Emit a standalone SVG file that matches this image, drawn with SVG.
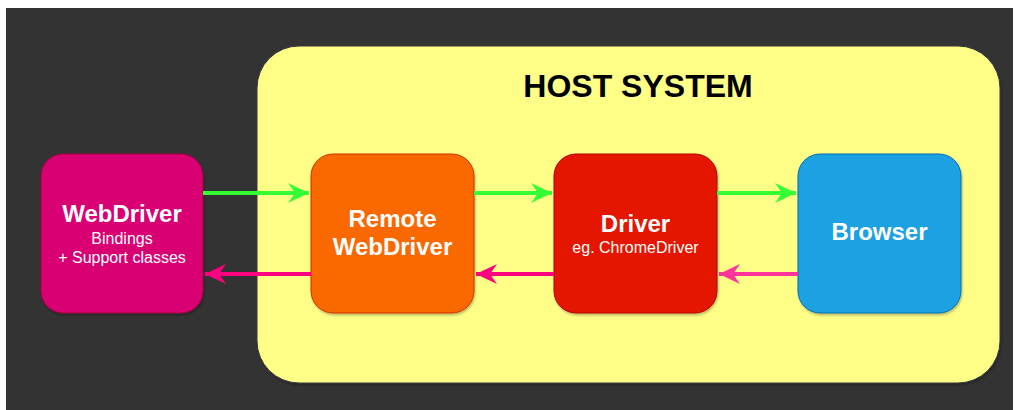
<svg xmlns="http://www.w3.org/2000/svg" width="1015" height="410" viewBox="0 0 1015 410">
  <style>
    .node { stroke-width: 1; }
    .title { font-family: "Liberation Sans", Arial, sans-serif; font-weight: bold; fill: #ffffff; font-size: 24px; text-anchor: middle; }
    .sub { font-family: "Liberation Sans", Arial, sans-serif; fill: #ffffff; font-size: 16px; text-anchor: middle; }
    .host { font-family: "Liberation Sans", Arial, sans-serif; font-weight: bold; fill: #000000; font-size: 32px; text-anchor: middle; }
    .fwd { stroke: #33ff33; stroke-width: 4; fill: none; }
    .back { stroke: #ff0080; stroke-width: 4; fill: none; }
    .back2 { stroke: #ff3399; stroke-width: 4; fill: none; }
  </style>
  <defs>
    <filter id="sh" x="-10%" y="-10%" width="130%" height="130%">
      <feDropShadow dx="1" dy="2" stdDeviation="1" flood-color="#000000" flood-opacity="0.25"/>
    </filter>
    <marker id="hg" viewBox="0 0 22 20" refX="21" refY="10" markerWidth="22" markerHeight="20" markerUnits="userSpaceOnUse" orient="auto">
      <path d="M21,10 L0,0 L7,10 L0,20 Z" fill="#33ff33"/>
    </marker>
    <marker id="hp" viewBox="0 0 22 20" refX="21" refY="10" markerWidth="22" markerHeight="20" markerUnits="userSpaceOnUse" orient="auto">
      <path d="M21,10 L0,0 L7,10 L0,20 Z" fill="#ff0080"/>
    </marker>
    <marker id="hp2" viewBox="0 0 22 20" refX="21" refY="10" markerWidth="22" markerHeight="20" markerUnits="userSpaceOnUse" orient="auto">
      <path d="M21,10 L0,0 L7,10 L0,20 Z" fill="#ff3399"/>
    </marker>
  </defs>

  <rect x="0" y="0" width="1015" height="410" fill="#ffffff"/>
  <rect x="6" y="8" width="1007" height="402" fill="#333333"/>

  <g id="host-system">
    <rect x="257" y="46" width="743" height="337" rx="42" ry="42" fill="#ffff88" stroke="#36393d" stroke-width="1" filter="url(#sh)"/>
    <text class="host" x="638" y="97">HOST SYSTEM</text>
  </g>

  <g id="webdriver">
    <rect class="node" x="41" y="154" width="162" height="159" rx="22" ry="22" fill="#d80073" stroke="#a50040" filter="url(#sh)"/>
    <text class="title" x="122" y="222">WebDriver</text>
    <text class="sub" x="122" y="244">Bindings</text>
    <text class="sub" x="122" y="263">+ Support classes</text>
  </g>

  <g id="remote-webdriver">
    <rect class="node" x="311" y="154" width="163" height="159" rx="22" ry="22" fill="#fa6800" stroke="#c73500" filter="url(#sh)"/>
    <text class="title" x="392.5" y="227">Remote</text>
    <text class="title" x="392.5" y="255">WebDriver</text>
  </g>

  <g id="driver">
    <rect class="node" x="554" y="154" width="163" height="159" rx="22" ry="22" fill="#e51400" stroke="#b20000" filter="url(#sh)"/>
    <text class="title" x="635.5" y="232">Driver</text>
    <text class="sub" x="635.5" y="253">eg. ChromeDriver</text>
  </g>

  <g id="browser">
    <rect class="node" x="798" y="154" width="163" height="159" rx="22" ry="22" fill="#1ba1e2" stroke="#006eaf" filter="url(#sh)"/>
    <text class="title" x="879.5" y="240">Browser</text>
  </g>

  <g id="connectors">
    <line class="fwd" x1="203" y1="193" x2="309" y2="193" marker-end="url(#hg)"/>
    <line class="fwd" x1="474" y1="193" x2="552" y2="193" marker-end="url(#hg)"/>
    <line class="fwd" x1="717" y1="193" x2="796" y2="193" marker-end="url(#hg)"/>
    <line class="back" x1="311" y1="274" x2="205" y2="274" marker-end="url(#hp)"/>
    <line class="back" x1="554" y1="274" x2="476" y2="274" marker-end="url(#hp)"/>
    <line class="back2" x1="798" y1="274" x2="719" y2="274" marker-end="url(#hp2)"/>
  </g>
</svg>
